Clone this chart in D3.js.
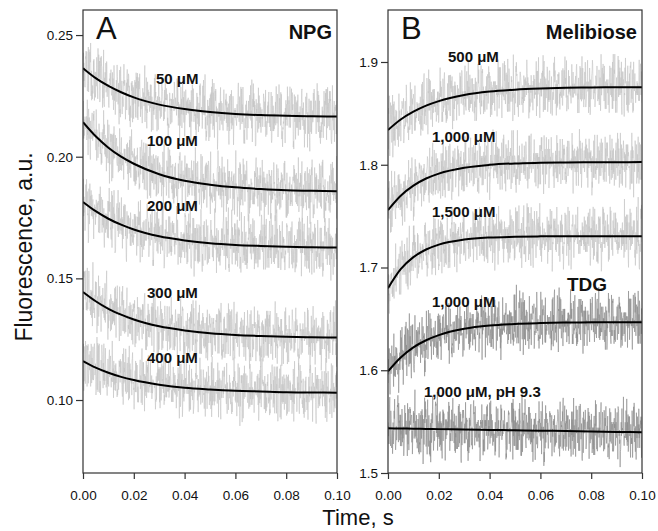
<!DOCTYPE html>
<html>
<head>
<meta charset="utf-8">
<script src="https://cdn.jsdelivr.net/npm/d3@7"></script>
<style>
  body { margin: 0; background: #fff; }
  text { font-family: 'Liberation Sans', Arial, sans-serif; fill: #111; }
</style>
</head>
<body>
<div id="chart"></div>
<script>
// time points the fitted curves were read at (s)
var times = [0, 0.005, 0.01, 0.015, 0.02, 0.03, 0.04, 0.05, 0.06, 0.07, 0.08, 0.09, 0.10]
var xTicks = [0, 0.02, 0.04, 0.06, 0.08, 0.10]

// panel A - NPG
var npgLabels = ['50 μM', '100 μM', '200 μM', '300 μM', '400 μM']
var npgFits = [
  [0.2364, 0.2323, 0.2291, 0.2265, 0.2244, 0.2214, 0.2196, 0.2184, 0.2176, 0.2171, 0.2168, 0.2166, 0.2165],
  [0.2142, 0.2084, 0.2037, 0.2000, 0.1971, 0.1928, 0.1901, 0.1885, 0.1874, 0.1867, 0.1862, 0.1860, 0.1858],
  [0.1814, 0.1776, 0.1745, 0.1721, 0.1701, 0.1673, 0.1656, 0.1644, 0.1637, 0.1633, 0.1630, 0.1628, 0.1627],
  [0.1444, 0.1406, 0.1375, 0.1351, 0.1331, 0.1303, 0.1286, 0.1274, 0.1267, 0.1263, 0.1260, 0.1258, 0.1257],
  [0.1160, 0.1133, 0.1112, 0.1095, 0.1082, 0.1063, 0.1050, 0.1043, 0.1038, 0.1035, 0.1032, 0.1031, 0.1030]
]
var yTicksA = [0.10, 0.15, 0.20, 0.25]

// panel B - melibiose, then TDG
var meliLabels = ['500 μM', '1,000 μM', '1,500 μM']
var meliFits = [
  [1.8338, 1.8440, 1.8516, 1.8575, 1.8619, 1.8678, 1.8712, 1.8731, 1.8742, 1.8749, 1.8752, 1.8754, 1.8755],
  [1.7559, 1.7699, 1.7797, 1.7866, 1.7914, 1.7971, 1.7999, 1.8013, 1.8019, 1.8023, 1.8025, 1.8025, 1.8026],
  [1.6799, 1.6984, 1.7101, 1.7175, 1.7223, 1.7272, 1.7292, 1.7299, 1.7303, 1.7304, 1.7305, 1.7305, 1.7305]
]
var tdgLabels = ['1,000 μM', '1,000 μM, pH 9.3']
var tdgFits = [
  [1.5990, 1.6125, 1.6223, 1.6292, 1.6342, 1.6403, 1.6435, 1.6451, 1.6459, 1.6464, 1.6466, 1.6467, 1.6468],
  [1.5435, 1.5433, 1.5431, 1.5429, 1.5427, 1.5423, 1.5419, 1.5416, 1.5412, 1.5408, 1.5404, 1.5400, 1.5396]
]
var yTicksB = [1.5, 1.6, 1.7, 1.8, 1.9]

// scatter of the raw traces round their fits (hand typed, arbitrary units)
var residuals = [
  3, -5, 8, -2, -7, 1, 6, -4, 2, -9, 5, 0, -3, 7, -6, 4, -1, 9, -5, 2,
  -8, 3, 6, -2, -4, 10, -7, 1, 5, -3, -6, 2, 8, -1, -9, 4, 0, -5, 7, -2,
  3, -7, 6, 1, -4, 9, -3, -8, 2, 5, -1, -6, 4, 8, -5, 0, -2, 7, -9, 3,
  1, -4, 6, -7, 2, 10, -3, -1, 5, -8, 4, -6, 3, 0, -2, 8, -5, 6, -10, 2,
  -3, 7, -1, 4, -7, 5, -4, 1, 9, -6, 2, -2, 6, -8, 3, -5, 8, 0, -4, 1,
  -9, 5, -3, 7, 2, -6, 4, -1, -7, 6, 3, -2, 9, -5, 1, -8, 5, -3, 0, 7,
  -4, 2, -6, 8, -1, 3, -9, 6, -2, 4, -5, 10, -7, 1, -3, 5, 2, -8, 6, -4,
  0, 3, -6, 7, -2, -5, 8, 1, -3, 4
]

var width = 658
var height = 531
var bottom = 473
var top_ = 10
var nSamples = 1000

var svg = d3
  .select('#chart')
  .append('svg')
  .attr('width', width)
  .attr('height', height)

function rawTrace(fit, unit, off) {
  var base = d3.scaleLinear().domain(times).range(fit)
  var pts = []
  for (var i = 0; i < nSamples; i++) {
    var t = (i / (nSamples - 1)) * 0.1
    var r = residuals[(i * 37 + off) % 150] + residuals[(i * 13 + off * 7) % 149]
    pts.push([t, base(t) + unit * r])
  }
  return pts
}

function drawPanel(p) {
  var x = d3.scaleLinear().domain([0, 0.1]).range([p.left, p.right])
  var y = d3.scaleLinear().domain(p.yDomain).range([bottom, top_])

  var g = svg.append('g')

  g.append('clipPath')
    .attr('id', 'clip-' + p.id)
    .append('rect')
    .attr('x', p.left)
    .attr('y', top_)
    .attr('width', p.right - p.left)
    .attr('height', bottom - top_)

  var line = d3.line().x(d => x(d[0])).y(d => y(d[1]))
  var fitLine = d3
    .line()
    .x((d, i) => x(times[i]))
    .y(d => y(d))
    .curve(d3.curveMonotoneX)

  var plot = g.append('g').attr('clip-path', 'url(#clip-' + p.id + ')')

  // noisy raw data first
  p.series.forEach((s, k) => {
    plot
      .append('path')
      .datum(rawTrace(s.fit, p.unit, k * 23 + p.seed))
      .attr('d', line)
      .attr('fill', 'none')
      .attr('stroke', s.color)
      .attr('stroke-width', 0.6)
  })

  // fitted curves on top
  p.series.forEach(s => {
    plot
      .append('path')
      .datum(s.fit)
      .attr('d', fitLine)
      .attr('fill', 'none')
      .attr('stroke', '#000')
      .attr('stroke-width', 2)
  })

  // axes
  var yAxis = g
    .append('g')
    .attr('transform', 'translate(' + p.left + ',0)')
    .call(d3.axisLeft(y).tickValues(p.yTicks).tickSize(7).tickPadding(3).tickFormat(d3.format(p.fmt)))
  var xAxis = g
    .append('g')
    .attr('transform', 'translate(0,' + bottom + ')')
    .call(d3.axisBottom(x).tickValues(xTicks).tickSize(6).tickPadding(11).tickFormat(d3.format('.2f')))

  ;[yAxis, xAxis].forEach(a => {
    a.select('.domain').remove()
    a.selectAll('line').attr('stroke', '#333').attr('stroke-width', 1.2)
    a.selectAll('text').style('font-size', '13.5px').attr('fill', '#111')
  })

  g.append('rect')
    .attr('x', p.left)
    .attr('y', top_)
    .attr('width', p.right - p.left)
    .attr('height', bottom - top_)
    .attr('fill', 'none')
    .attr('stroke', '#333')
    .attr('stroke-width', 1.2)

  // panel letter and title
  g.append('text')
    .attr('x', p.left + 13)
    .attr('y', 39)
    .style('font-size', '31px')
    .text(p.letter)
  g.append('text')
    .attr('x', p.right - 5)
    .attr('y', 39)
    .attr('text-anchor', 'end')
    .style('font-size', '20px')
    .style('font-weight', 'bold')
    .text(p.title)

  p.series.forEach(s => {
    g.append('text')
      .attr('x', s.lx)
      .attr('y', s.ly)
      .style('font-size', '15px')
      .style('font-weight', 'bold')
      .text(s.label)
  })
}

var seriesA = npgLabels.map((l, i) => ({
  label: l,
  fit: npgFits[i],
  color: '#c4c4c4',
  lx: [156, 147, 147, 147, 147][i],
  ly: [84, 146, 211, 298, 363][i]
}))

var seriesB = meliLabels
  .map((l, i) => ({
    label: l,
    fit: meliFits[i],
    color: '#c4c4c4',
    lx: [448, 432, 432][i],
    ly: [62, 142, 217][i]
  }))
  .concat(
    tdgLabels.map((l, i) => ({
      label: l,
      fit: tdgFits[i],
      color: '#8a8a8a',
      lx: [432, 424][i],
      ly: [307, 397][i]
    }))
  )

drawPanel({
  id: 'a', left: 83, right: 337, yDomain: [0.07, 0.2603], yTicks: yTicksA, fmt: '.2f',
  unit: 0.0008, seed: 5, letter: 'A', title: 'NPG', series: seriesA
})
drawPanel({
  id: 'b', left: 388, right: 642, yDomain: [1.5, 1.9506], yTicks: yTicksB, fmt: '.1f',
  unit: 0.0019, seed: 61, letter: 'B', title: 'Melibiose', series: seriesB
})

svg.append('text')
  .attr('x', 567)
  .attr('y', 291)
  .style('font-size', '19px')
  .style('font-weight', 'bold')
  .text('TDG')

// axis titles
svg.append('text')
  .attr('transform', 'translate(32,247) rotate(-90)')
  .attr('text-anchor', 'middle')
  .style('font-size', '23px')
  .text('Fluorescence, a.u.')

svg.append('text')
  .attr('x', 358)
  .attr('y', 525)
  .attr('text-anchor', 'middle')
  .style('font-size', '22px')
  .text('Time, s')
</script>
</body>
</html>
